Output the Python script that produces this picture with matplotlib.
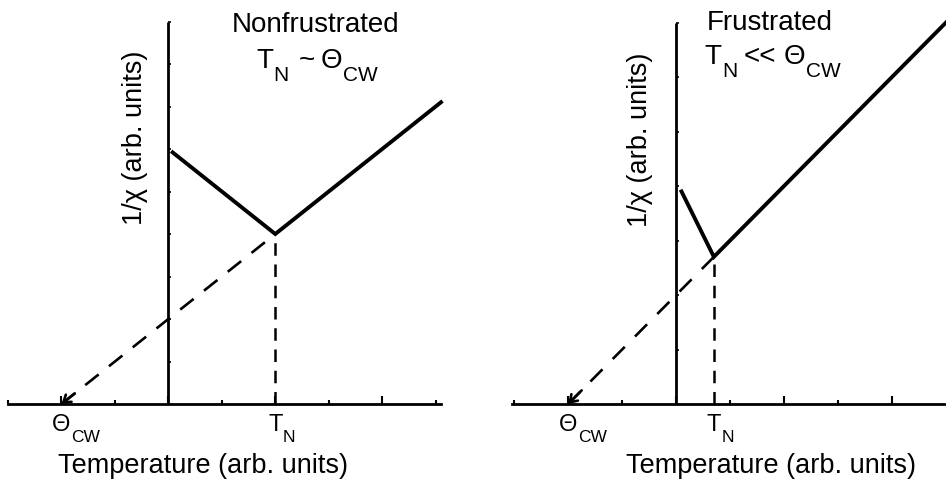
import numpy as np
import matplotlib
matplotlib.use('Agg')
import matplotlib.pyplot as plt
import matplotlib.transforms as mtransforms
from matplotlib.ticker import FixedLocator

plt.rcParams['font.family'] = ['Liberation Sans', 'DejaVu Sans']

# Curie-Weiss sketches: 1/chi vs T, two regimes
# left: nonfrustrated (T_N ~ Theta_CW)
theta_nf = -2.0
tn_nf = 2.0
x_nf = [0.08, 2.0, 5.1]
y_nf = [5.92, 4.0, 7.1]

# right: frustrated (T_N << Theta_CW)
theta_fr = -2.0
tn_fr = 0.7
x_fr = [0.1, 0.7, 5.0]
y_fr = [3.9, 2.7, 7.0]

fig = plt.figure(figsize=(9.46, 4.83), dpi=100)
renderer = fig.canvas.get_renderer()

ax1 = fig.add_axes([8 / 946, 79 / 483, 433 / 946, 382.5 / 483])
ax2 = fig.add_axes([512 / 946, 79 / 483, 434 / 946, 381.5 / 483])
ax1.set_xlim(-3, 5.1)
ax1.set_ylim(0, 9)
ax2.set_xlim(-3.04, 5.0)
ax2.set_ylim(0, 7)


def sub_label(x, y, parts, trans, anchor='all'):
    # parts: (text, fontsize, dy in pt, gap before in pt)
    pieces = []
    off = 0.0
    for s, fs, dy, gap in parts:
        off += gap
        t = fig.text(0, 0, s, fontsize=fs, ha='left', va='baseline')
        w = t.get_window_extent(renderer).width * 72 / fig.dpi
        pieces.append((t, off, dy, w))
        off += w
    shift = off / 2 if anchor == 'all' else pieces[0][3] / 2
    for t, x0, dy, w in pieces:
        t.set_transform(mtransforms.offset_copy(trans, fig=fig, x=x0 - shift,
                                                y=dy, units='points'))
        t.set_position((x, y))


def setup(ax, ymax, xmaj, xmin):
    for side in ['top', 'right']:
        ax.spines[side].set_visible(False)
    ax.spines['left'].set_position(('data', 0))
    ax.spines['left'].set_linewidth(2.0)
    ax.spines['bottom'].set_linewidth(2.0)
    ax.spines['left'].set_capstyle('butt')
    ax.xaxis.set_major_locator(FixedLocator(xmaj))
    ax.xaxis.set_minor_locator(FixedLocator(xmin))
    ax.yaxis.set_major_locator(FixedLocator(np.arange(0, ymax + 1)))
    ax.tick_params(axis='x', which='major', direction='in', length=6, width=1.5,
                   labelbottom=False)
    ax.tick_params(axis='x', which='minor', direction='in', length=3, width=1.5)
    ax.tick_params(axis='y', which='major', direction='in', length=2, width=1.2,
                   labelleft=False)
    ax.patch.set_visible(False)


setup(ax1, 9, [-2, 0, 2, 4], [-3, -1, 1, 3, 5])
setup(ax2, 7, [-2, 0, 2, 4], [-3, -1, 1, 3])


def draw_panel(ax, theta, tn, xs, ys, diag_dash):
    yn = ys[1]
    # extrapolated Curie-Weiss line down to Theta_CW
    ax.plot([theta, tn], [0, yn], color='black', lw=1.9,
            linestyle=(0, diag_dash), clip_on=False, zorder=2)
    ax.annotate('', xy=(theta, 0), xytext=(theta + 0.25, 0.25 * yn / (tn - theta)),
                arrowprops=dict(arrowstyle='->,head_length=0.45,head_width=0.3',
                                color='black', lw=1.9, shrinkA=0, shrinkB=0,
                                mutation_scale=11),
                annotation_clip=False)
    # T_N marker
    ax.plot([tn, tn], [0, yn], color='black', lw=1.8,
            linestyle=(0, (5, 3.5)), clip_on=False, zorder=2)
    ax.plot(xs, ys, color='black', lw=2.8, clip_on=False, zorder=3,
            solid_joinstyle='miter')


draw_panel(ax1, theta_nf, tn_nf, x_nf, y_nf, (6.5, 5))
draw_panel(ax2, theta_fr, tn_fr, x_fr, y_fr, (6.5, 5.5))

# labels below the axis
lab_dy = -19.5
for ax, theta, tn in [(ax1, theta_nf, tn_nf), (ax2, theta_fr, tn_fr)]:
    sub_label(theta, 0, [('Θ', 17, lab_dy, 0), ('CW', 12.5, lab_dy - 7.5, 0.5)],
              ax.transData, anchor='first')
    sub_label(tn, 0, [('T', 17, lab_dy, 0), ('N', 12.5, lab_dy - 7.5, 0.3)],
              ax.transData, anchor='first')

# headings
fig.text(316 / 946, 1 - 32 / 483, 'Nonfrustrated', fontsize=20,
         ha='center', va='baseline')
sub_label(317 / 946, 1 - 68 / 483,
          [('T', 20, 0, 0), ('N', 15, -9.5, 0), ('~', 20, 0, 8), ('Θ', 20, 0, 4),
           ('CW', 15, -9.5, 0.5)], fig.transFigure)
fig.text(770 / 946, 1 - 30 / 483, 'Frustrated', fontsize=20,
         ha='center', va='baseline')
sub_label(773 / 946, 1 - 64 / 483,
          [('T', 20, 0, 0), ('N', 15, -9.5, 0), ('<<', 20, 0, 5), ('Θ', 20, 0, 5),
           ('CW', 15, -9.5, 1)], fig.transFigure)

# axis titles
for xc in [203, 771]:
    fig.text(xc / 946, 1 - 473 / 483, 'Temperature (arb. units)', fontsize=19.5,
             ha='center', va='baseline')
fig.text(135 / 946, 1 - 138 / 483, '1/χ (arb. units)', fontsize=19.5,
         rotation=90, ha='center', va='center')
fig.text(640 / 946, 1 - 140 / 483, '1/χ (arb. units)', fontsize=19.5,
         rotation=90, ha='center', va='center')

fig.savefig('out.png', dpi=100, facecolor='white')
